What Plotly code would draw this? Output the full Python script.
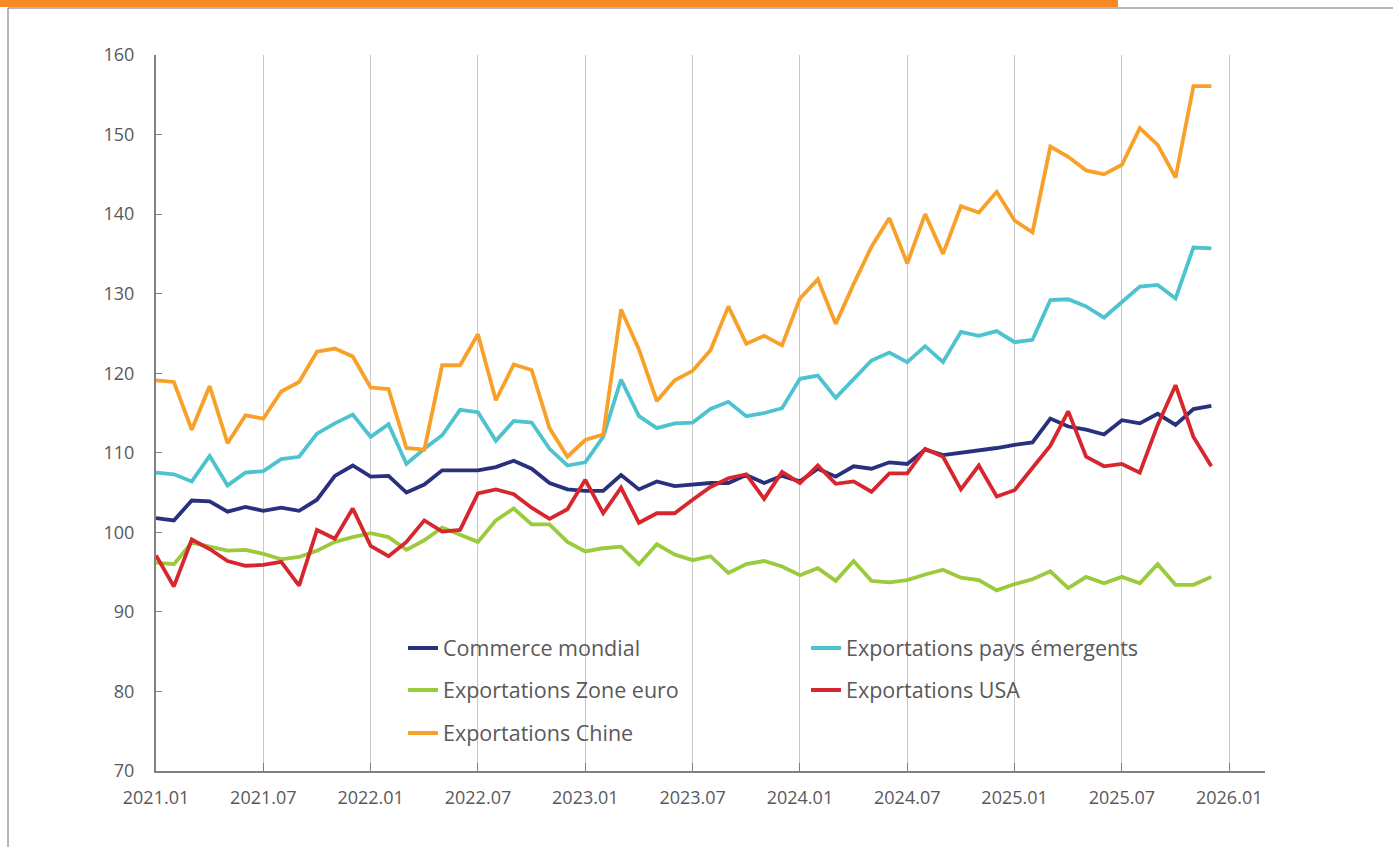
import plotly.graph_objects as go

# ---- data -------------------------------------------------------------
mois = [f"{a}.{m:02d}" for a in range(2021, 2026) for m in range(1, 13)]
x_idx = list(range(len(mois)))

commerce_mondial = [
    101.8, 101.5, 104.0, 103.9, 102.6, 103.2, 102.7, 103.1, 102.7, 104.1, 107.1, 108.4,
    107.0, 107.1, 105.0, 106.0, 107.8, 107.8, 107.8, 108.2, 109.0, 108.0, 106.2, 105.4,
    105.2, 105.2, 107.2, 105.4, 106.4, 105.8, 106.0, 106.2, 106.2, 107.2, 106.2, 107.1,
    106.4, 108.0, 107.0, 108.3, 108.0, 108.8, 108.6, 110.4, 109.7, 110.0, 110.2, 110.6,
    111.0, 111.3, 114.3, 113.3, 112.9, 112.3, 114.1, 113.7, 114.9, 113.5, 115.5, 115.9,
]
export_emergents = [
    107.5, 107.3, 106.4, 109.6, 105.9, 107.5, 107.7, 109.2, 109.5, 112.4, 113.7, 114.8,
    112.0, 113.6, 108.6, 110.5, 112.2, 115.4, 115.1, 111.5, 114.0, 113.8, 110.5, 108.4,
    108.8, 112.0, 119.2, 114.6, 113.1, 113.7, 113.8, 115.5, 116.4, 114.6, 115.0, 115.6,
    119.3, 119.7, 116.9, 119.3, 121.6, 122.6, 121.4, 123.4, 121.4, 125.2, 124.7, 125.3,
    123.9, 124.2, 129.2, 129.3, 128.4, 127.0, 129.0, 130.9, 131.1, 129.4, 135.8, 135.7,
]
export_zone_euro = [
    96.2, 96.0, 98.7, 98.2, 97.7, 97.8, 97.3, 96.6, 96.9, 97.7, 98.8, 99.4,
    99.9, 99.4, 97.8, 99.0, 100.6, 99.7, 98.8, 101.5, 103.0, 101.0, 101.0, 98.8,
    97.6, 98.0, 98.2, 96.0, 98.5, 97.2, 96.5, 97.0, 94.9, 96.0, 96.4, 95.7,
    94.6, 95.5, 93.9, 96.4, 93.9, 93.7, 94.0, 94.7, 95.3, 94.3, 94.0, 92.7,
    93.5, 94.1, 95.1, 93.0, 94.4, 93.6, 94.4, 93.6, 96.0, 93.4, 93.4, 94.4,
]
export_usa = [
    97.1, 93.2, 99.1, 97.9, 96.4, 95.8, 95.9, 96.3, 93.3, 100.3, 99.2, 103.0,
    98.3, 97.0, 98.8, 101.5, 100.1, 100.3, 104.9, 105.4, 104.8, 103.1, 101.7, 102.9,
    106.6, 102.4, 105.6, 101.2, 102.4, 102.4, 104.1, 105.7, 106.8, 107.3, 104.2, 107.6,
    106.2, 108.4, 106.1, 106.4, 105.1, 107.4, 107.4, 110.5, 109.5, 105.4, 108.4, 104.5,
    105.3, 108.1, 110.9, 115.2, 109.5, 108.3, 108.6, 107.5, 113.5, 118.5, 112.0, 108.3,
]
export_chine = [
    119.1, 118.9, 112.9, 118.4, 111.2, 114.7, 114.3, 117.7, 118.9, 122.7, 123.1, 122.1,
    118.2, 118.0, 110.6, 110.4, 121.0, 121.0, 124.9, 116.6, 121.1, 120.4, 113.1, 109.5,
    111.6, 112.3, 128.0, 123.0, 116.5, 119.1, 120.3, 122.9, 128.4, 123.7, 124.7, 123.5,
    129.4, 131.8, 126.2, 131.2, 135.9, 139.5, 133.8, 140.0, 135.0, 141.0, 140.2, 142.8,
    139.2, 137.7, 148.5, 147.2, 145.5, 145.0, 146.2, 150.8, 148.7, 144.6, 156.1, 156.1,
]

tick_pos = [0, 6, 12, 18, 24, 30, 36, 42, 48, 54, 60]
tick_labels = ["2021.01", "2021.07", "2022.01", "2022.07", "2023.01", "2023.07",
               "2024.01", "2024.07", "2025.01", "2025.07", "2026.01"]

series = [
    ("Commerce mondial", commerce_mondial, "#29307E", "legend"),
    ("Exportations pays émergents", export_emergents, "#4EC3D0", "legend"),
    ("Exportations Zone euro", export_zone_euro, "#9BCB3C", "legend2"),
    ("Exportations USA", export_usa, "#D6262E", "legend2"),
    ("Exportations Chine", export_chine, "#F7A12B", "legend3"),
]

# ---- geometry (pixels) -------------------------------------------------
W, H = 1393, 847
ML, MR, MT, MB = 156, 128, 55, 76
PW, PH = W - ML - MR, H - MT - MB


def px(xp):
    return (xp - ML) / PW


def py(yp):
    return (H - MB - yp) / PH


fig = go.Figure()
for name, vals, col, leg in series:
    fig.add_trace(go.Scatter(
        x=x_idx, y=vals, name=name, mode="lines",
        line=dict(color=col, width=3.8), legend=leg,
        hoverinfo="skip",
    ))

FONT = "Open Sans"
TXT = "#595959"
leg_common = dict(
    orientation="h", xanchor="left", yanchor="middle",
    entrywidth=358, entrywidthmode="pixels",
    bgcolor="rgba(0,0,0,0)", borderwidth=0,
    font=dict(family=FONT, size=21.5, color=TXT),
    itemwidth=30, tracegroupgap=0,
)
lx = px(403)
fig.update_layout(
    legend=dict(x=lx, y=py(648), **leg_common),
    legend2=dict(x=lx, y=py(690), **leg_common),
    legend3=dict(x=lx, y=py(733), **leg_common),
)

fig.update_layout(
    width=W, height=H,
    margin=dict(l=ML, r=MR, t=MT, b=MB),
    paper_bgcolor="white", plot_bgcolor="white",
    font=dict(family=FONT, color=TXT),
    showlegend=True,
    xaxis=dict(
        range=[0, 62], tickmode="array", tickvals=tick_pos, ticktext=tick_labels,
        showgrid=True, gridcolor="#C8C8C8", gridwidth=1,
        showline=True, linecolor="#808080", linewidth=2,
        ticks="inside", ticklen=8, tickcolor="#808080", tickwidth=1,
        zeroline=False, tickfont=dict(size=18, color=TXT, family=FONT),
        ticklabelstandoff=9, fixedrange=True,
    ),
    yaxis=dict(
        range=[70, 160], dtick=10, tick0=70,
        showgrid=False, showline=True, linecolor="#808080", linewidth=2,
        ticks="inside", ticklen=6, tickcolor="#808080", tickwidth=1,
        zeroline=False, tickfont=dict(size=18, color=TXT, family=FONT),
        ticklabelstandoff=16, fixedrange=True,
    ),
    shapes=[
        # white box behind the legend (hides the vertical gridlines)
        dict(type="rect", xref="paper", yref="paper",
             x0=px(395), x1=px(1160), y0=py(752), y1=py(628),
             fillcolor="white", line=dict(width=0), layer="between"),
        # orange top band
        dict(type="rect", xref="paper", yref="paper",
             x0=px(0), x1=px(1118), y0=py(7), y1=py(-2),
             fillcolor="#F68A26", line=dict(width=0), layer="above"),
        # thin frame lines
        dict(type="line", xref="paper", yref="paper",
             x0=px(8), x1=px(W + 2), y0=py(8), y1=py(8),
             line=dict(color="#6E6E6E", width=1)),
        dict(type="line", xref="paper", yref="paper",
             x0=px(8), x1=px(8), y0=py(8), y1=py(H + 2),
             line=dict(color="#6E6E6E", width=1)),
    ],
)

fig.write_html(
    "out.html",
    config={"displayModeBar": False},
    post_script="document.body.style.margin='0';document.body.style.overflow='hidden';",
)
